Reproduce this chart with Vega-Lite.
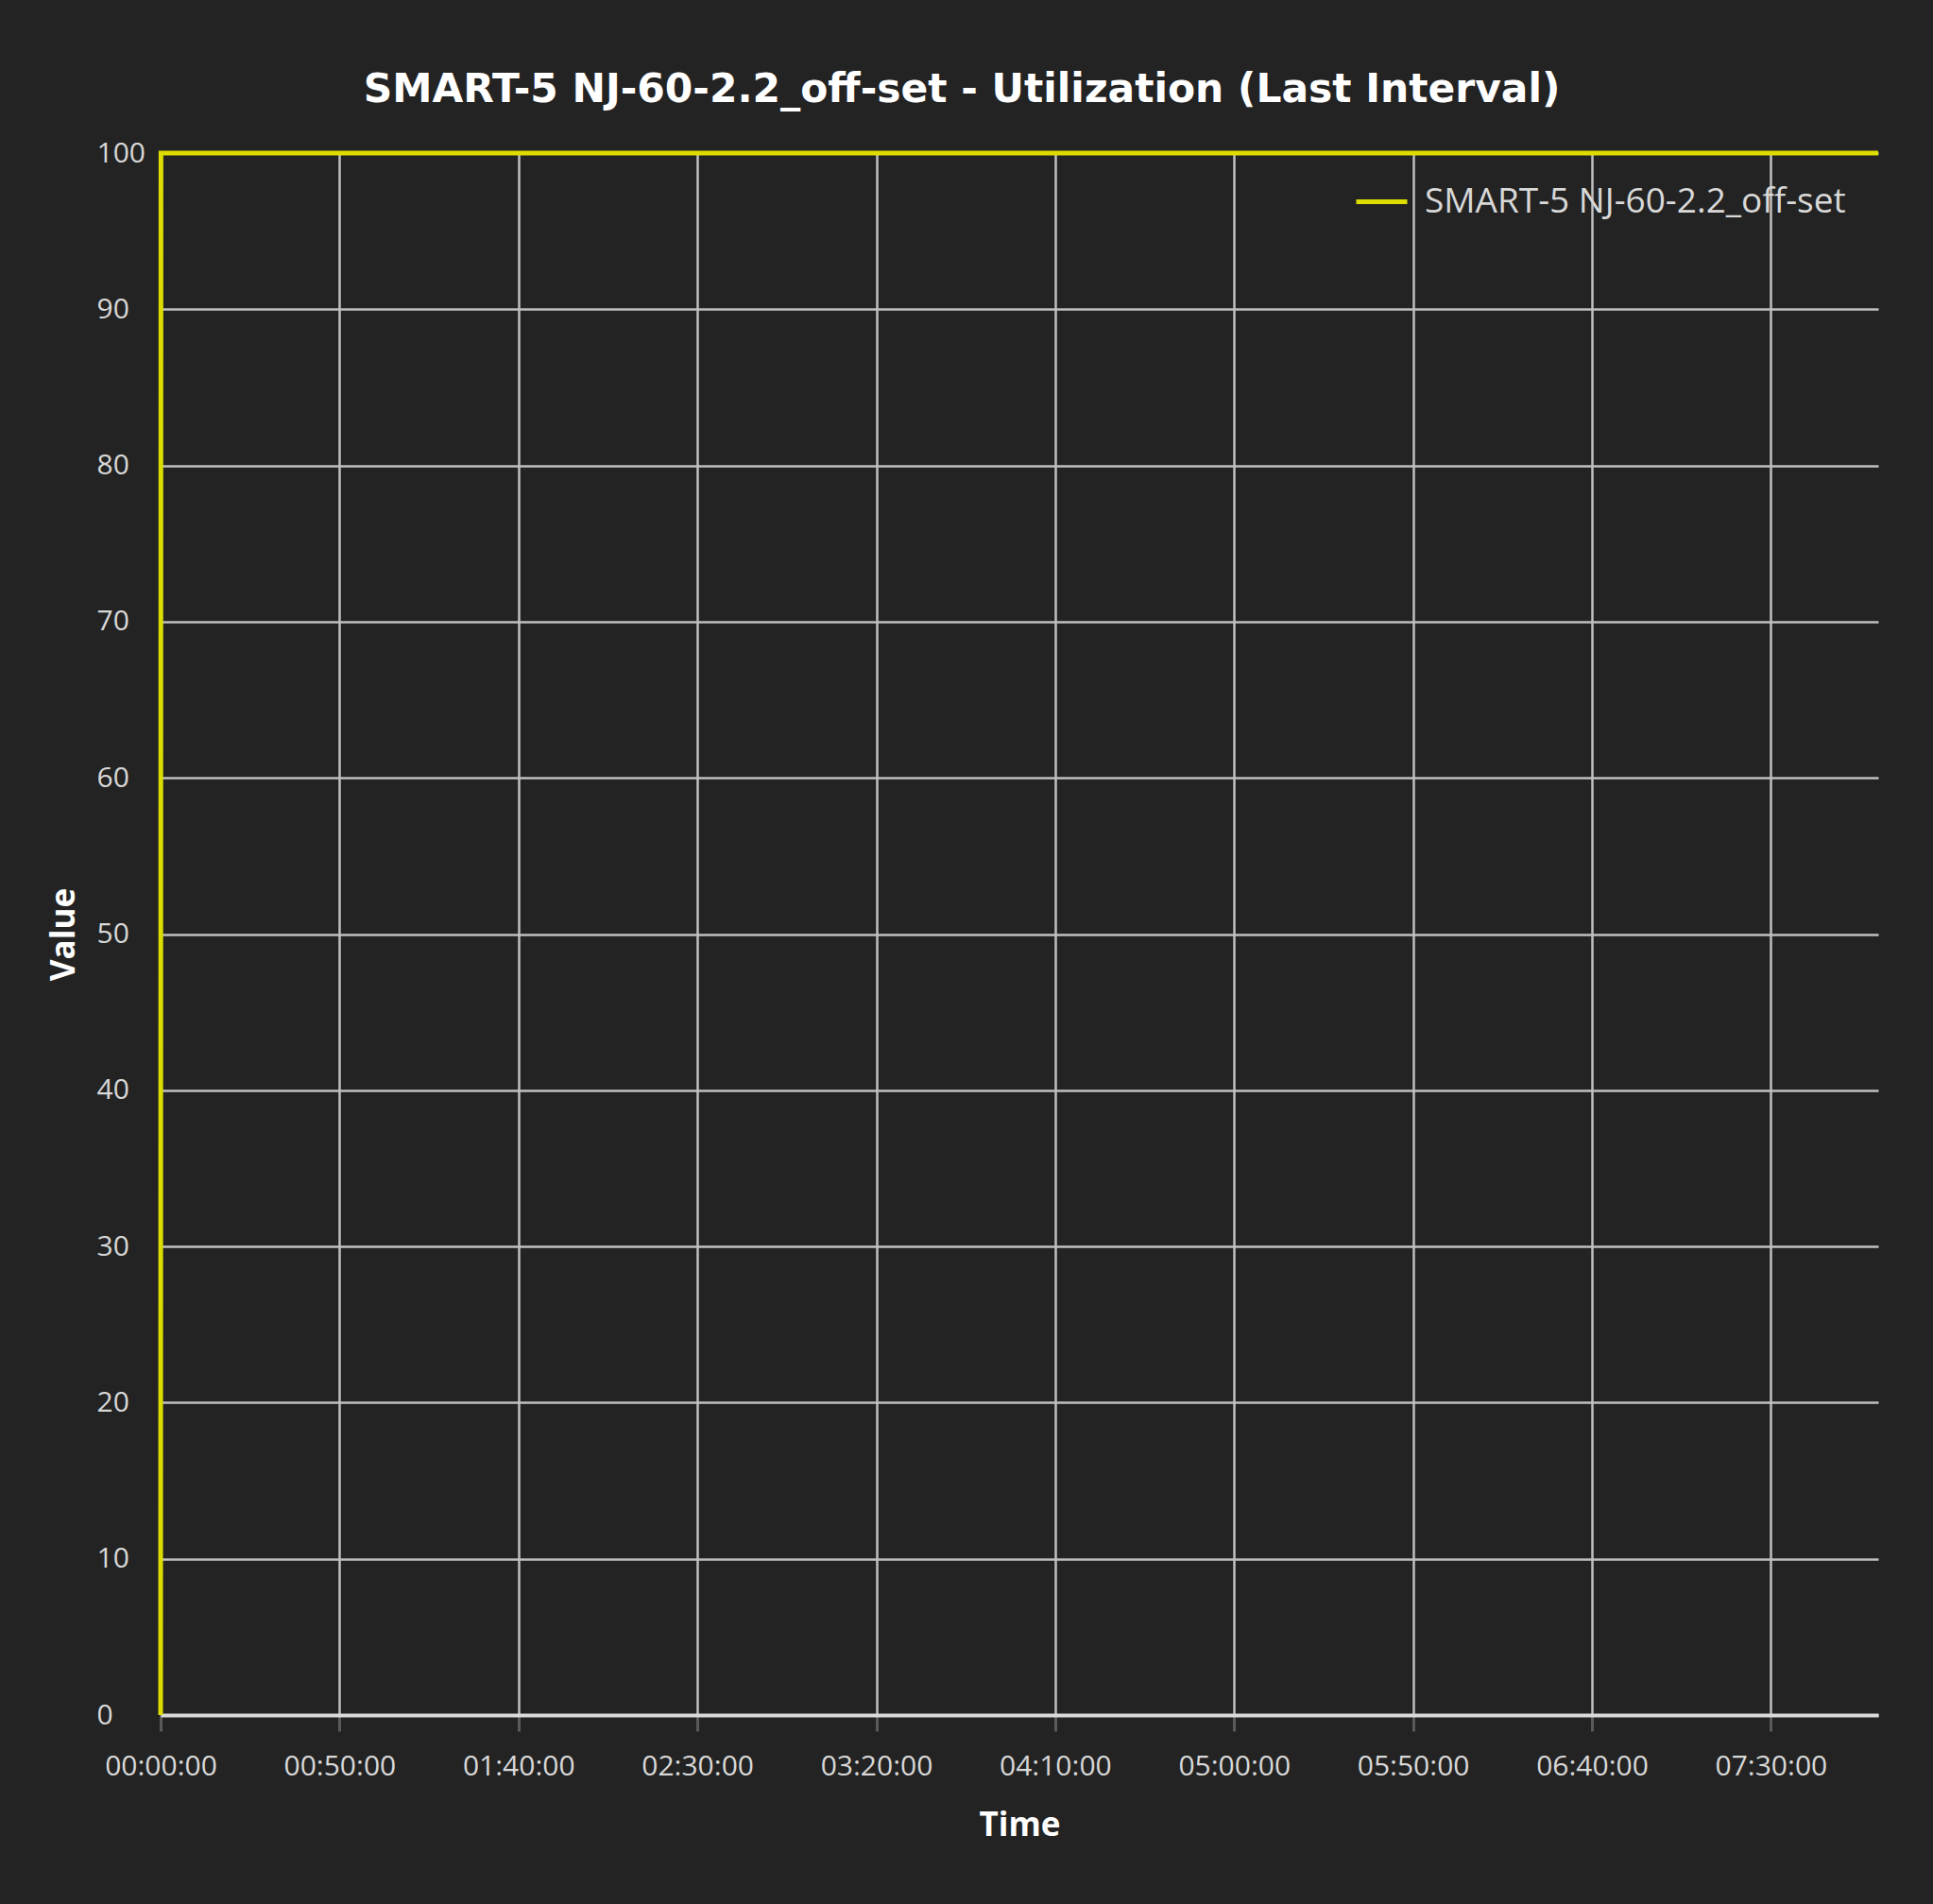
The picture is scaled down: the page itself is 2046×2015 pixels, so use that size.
{
  "$schema": "https://vega.github.io/schema/vega-lite/v6.json",
  "width": 1818,
  "height": 1653,
  "autosize": {"type": "none"},
  "padding": {"left": 170, "top": 162, "right": 58, "bottom": 200},
  "background": "#232323",
  "title": {
    "text": "SMART-5 NJ-60-2.2_off-set - Utilization (Last Interval)",
    "font": "DejaVu Sans",
    "fontWeight": "bold",
    "fontSize": 42.4,
    "color": "#ffffff",
    "anchor": "middle",
    "dx": -61,
    "offset": 30
  },
  "data": {
    "values": [
      {"minutes": 0, "value": 0, "series": "SMART-5 NJ-60-2.2_off-set"},
      {"minutes": 0.1, "value": 100, "series": "SMART-5 NJ-60-2.2_off-set"},
      {"minutes": 60, "value": 100, "series": "SMART-5 NJ-60-2.2_off-set"},
      {"minutes": 120, "value": 100, "series": "SMART-5 NJ-60-2.2_off-set"},
      {"minutes": 180, "value": 100, "series": "SMART-5 NJ-60-2.2_off-set"},
      {"minutes": 240, "value": 100, "series": "SMART-5 NJ-60-2.2_off-set"},
      {"minutes": 300, "value": 100, "series": "SMART-5 NJ-60-2.2_off-set"},
      {"minutes": 360, "value": 100, "series": "SMART-5 NJ-60-2.2_off-set"},
      {"minutes": 420, "value": 100, "series": "SMART-5 NJ-60-2.2_off-set"},
      {"minutes": 480, "value": 100, "series": "SMART-5 NJ-60-2.2_off-set"}
    ]
  },
  "mark": {"type": "line", "strokeWidth": 5, "clip": false},
  "encoding": {
    "x": {
      "field": "minutes",
      "type": "quantitative",
      "title": "Time",
      "scale": {"domain": [0, 480], "nice": false, "zero": false},
      "axis": {
        "values": [0, 50, 100, 150, 200, 250, 300, 350, 400, 450],
        "labelExpr": "utcFormat(datum.value*60000, '%H:%M:%S')",
        "grid": true,
        "gridColor": "#c0c0c0",
        "gridWidth": 2.5,
        "domainColor": "#dadada",
        "domainWidth": 4,
        "ticks": true,
        "tickColor": "#5a5a5a",
        "tickSize": 17,
        "tickWidth": 3,
        "labelPadding": 22,
        "labelFlush": false,
        "labelOverlap": false,
        "labelFont": "Open Sans",
        "labelFontSize": 30,
        "labelColor": "#d8d8d8",
        "titleFont": "Open Sans",
        "titleFontWeight": "bold",
        "titleFontSize": 35,
        "titleColor": "#ffffff",
        "titlePadding": 30
      }
    },
    "y": {
      "field": "value",
      "type": "quantitative",
      "title": "Value",
      "scale": {"domain": [0, 100], "nice": false},
      "axis": {
        "values": [0, 10, 20, 30, 40, 50, 60, 70, 80, 90, 100],
        "grid": true,
        "gridColor": "#c0c0c0",
        "gridWidth": 2.5,
        "domain": false,
        "ticks": false,
        "tickSize": 0,
        "labelAlign": "left",
        "labelBaseline": "middle",
        "labelPadding": 68,
        "labelFlush": false,
        "labelOverlap": false,
        "labelFont": "Open Sans",
        "labelFontSize": 30,
        "labelColor": "#d8d8d8",
        "titleFont": "Open Sans",
        "titleFontWeight": "bold",
        "titleFontSize": 35,
        "titleColor": "#ffffff",
        "titlePadding": 17
      }
    },
    "color": {
      "field": "series",
      "type": "nominal",
      "scale": {"range": ["#dcdc00"]},
      "legend": {
        "title": null,
        "orient": "none",
        "legendX": 1263,
        "legendY": 22,
        "padding": 0,
        "symbolType": "stroke",
        "symbolSize": 2916,
        "symbolStrokeWidth": 5,
        "labelOffset": 16,
        "labelFont": "Open Sans",
        "labelFontSize": 37,
        "labelColor": "#d8d8d8",
        "labelLimit": 0
      }
    }
  },
  "config": {"view": {"stroke": null}}
}
